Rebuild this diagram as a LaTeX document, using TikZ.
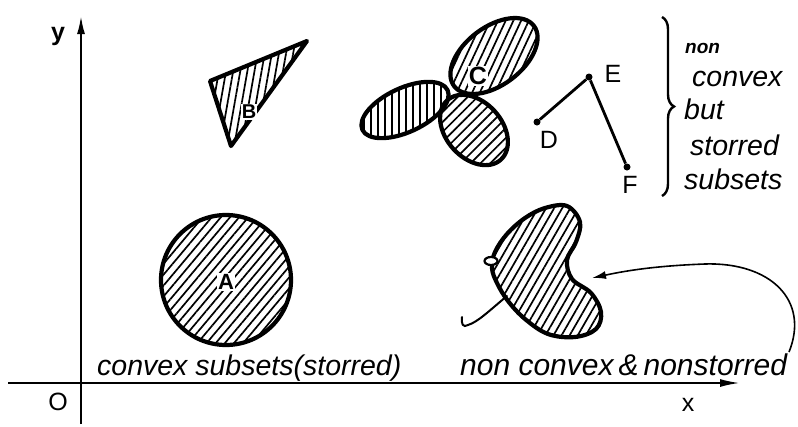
\documentclass[tikz,border=0pt]{standalone}
\usepackage{fontspec}
\setmainfont{Liberation Sans}
\usetikzlibrary{patterns.meta,decorations.pathreplacing,arrows.meta}
\begin{document}
\begin{tikzpicture}[x=1pt,y=-1pt,
  outline/.style={line width=4.2pt, line join=round},
  hatch/.style={pattern={Lines[angle=#1,distance=7pt,line width=1.7pt]}},
  lbl/.style={font=\fontsize{25}{25}\selectfont, inner sep=0pt},
  inlbl/.style={fill=white, inner sep=1pt},
  hand/.style={font=\fontsize{28.5}{33}\selectfont\itshape, inner sep=0pt},
  axisline/.style={line width=2pt},
  dotpt/.style={circle, fill=black, inner sep=0pt, minimum size=7pt},
  seg/.style={line width=2.8pt},
  ]
\useasboundingbox (0,0) rectangle (798,426);
% axes
\coordinate (yb) at (81,424);
\coordinate (yt) at (81,16);
\coordinate (xl) at (8,383);
\coordinate (xr) at (740,383);
\draw[axisline, -{Latex[length=18pt,width=8pt]}] (yb) -- (yt);
\draw[axisline, -{Latex[length=20pt,width=8pt]}] (xl) -- (xr);
\node[lbl, font=\fontsize{25}{25}\selectfont\bfseries] (ylab) at (58,36) {y};
\node[lbl] (olab) at (58,402) {O};
\node[lbl] (xlab) at (688,405) {x};
% triangle B
\coordinate (t1) at (210,81);
\coordinate (t2) at (307,41);
\coordinate (t3) at (231,146);
\draw[outline, hatch=80] (t1) -- (t2) -- (t3) -- cycle;
\node[lbl, inlbl, font=\fontsize{20}{20}\selectfont\bfseries] (B) at (249,112) {B};
% circle A
\draw[outline, hatch=50] (226,280) circle [radius=65];
\node[lbl, inlbl, font=\fontsize{22}{22}\selectfont\bfseries] (A) at (226,282) {A};
% clover C
\draw[outline, hatch=90] (405,110) ellipse [x radius=47, y radius=22, rotate=25];
\draw[outline, hatch=45] (474,130) ellipse [x radius=40, y radius=28, rotate=-48];
\draw[outline, hatch=65] (494,56) ellipse [x radius=50, y radius=29, rotate=37];
\node[lbl, inlbl, font=\fontsize{25}{25}\selectfont\bfseries] (C) at (478,76) {C};
% D E F
\node[dotpt] (D) at (537,122) {};
\node[dotpt] (E) at (589,77) {};
\node[dotpt] (F) at (627,167) {};
\draw[seg] (D) -- (E) -- (F);
\node[lbl] (Dl) at (549,140) {D};
\node[lbl] (El) at (613,74) {E};
\node[lbl] (Fl) at (630,185) {F};
% brace
\coordinate (b1) at (662,17);
\coordinate (b2) at (662,196);
\draw[line width=2.4pt, decorate, decoration={brace, amplitude=12pt}] (b1) -- (b2);
\node[hand, font=\fontsize{19}{19}\selectfont\itshape\bfseries, anchor=base west] (r1) at (685,53) {non};
\node[hand, anchor=base west] (r2) at (692,86) {convex};
\node[hand, anchor=base west] (r3) at (684,119) {but};
\node[hand, anchor=base west] (r4) at (690,155) {storred};
\node[hand, anchor=base west] (r5) at (684,189) {subsets};
% non convex blob
\draw[outline, hatch=60] plot[smooth cycle, tension=0.6] coordinates {
 (567,206) (580,222) (576,242) (567,260) (572,279) (591,293) (601,312)
 (596,329) (575,337) (548,334) (525,319) (508,301) (497,283) (492,268)
 (495,252) (507,234) (525,218) (545,208)};
\draw[line width=2.2pt, fill=white] (491,261) ellipse [x radius=6.5, y radius=4];
\coordinate (tail0) at (507,296);
\coordinate (tail1) at (468,325);
\coordinate (tail2) at (462,317);
\draw[line width=2pt, line cap=round] (tail0) .. controls (490,310) and (478,322) .. (tail1) .. controls (463,328) and (461,324) .. (tail2);
% labels bottom
\node[hand, anchor=base west] (lc) at (97,375) {convex subsets(storred)};
\node[hand, font=\fontsize{30}{33}\selectfont\itshape, anchor=base west] (ln) at (460,375) {non convex\,\&\,nonstorred};
% curved arrow
\coordinate (as) at (789,352);
\coordinate (ae) at (592,278);
\draw[line width=1.6pt, -{Latex[length=14pt,width=8pt]}] (as) .. controls (810,300) and (770,262) .. (705,264) .. controls (650,266) and (620,272) .. (ae);
\end{tikzpicture}
\end{document}
